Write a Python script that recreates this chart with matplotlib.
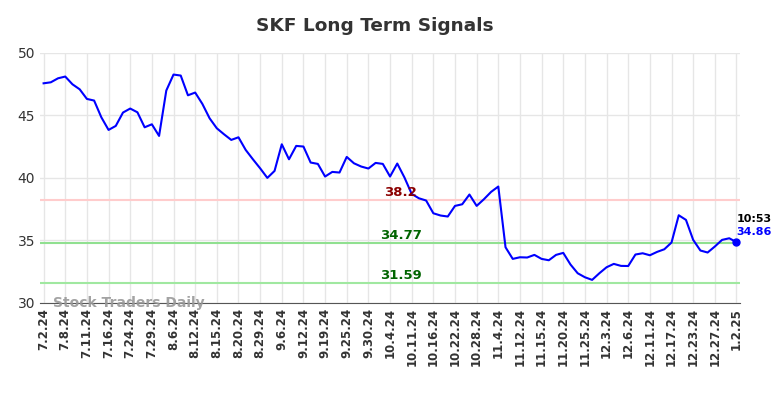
import matplotlib
matplotlib.use("Agg")
import matplotlib.pyplot as plt
import numpy as np

# closing prices, one per trading day
prices = [
    47.57, 47.65, 47.97, 48.11, 47.49, 47.09, 46.32, 46.19, 44.85, 43.84,
    44.16, 45.23, 45.55, 45.25, 44.05, 44.29, 43.36, 46.99, 48.27, 48.19,
    46.61, 46.83, 45.92, 44.77, 43.97, 43.49, 43.04, 43.25, 42.24, 41.49,
    40.77, 40.00, 40.56, 42.69, 41.49, 42.56, 42.51, 41.23, 41.12, 40.11,
    40.48, 40.43, 41.68, 41.17, 40.91, 40.75, 41.20, 41.12, 40.11, 41.15,
    40.03, 38.72, 38.37, 38.19, 37.17, 36.99, 36.91, 37.76, 37.89, 38.67,
    37.76, 38.29, 38.88, 39.31, 34.45, 33.52, 33.65, 33.63, 33.84, 33.52,
    33.41, 33.84, 34.00, 33.07, 32.37, 32.05, 31.84, 32.37, 32.85, 33.12,
    32.96, 32.95, 33.87, 33.97, 33.81, 34.08, 34.29, 34.83, 37.01, 36.64,
    35.04, 34.19, 34.03, 34.51, 35.04, 35.17, 34.86,
]

tick_labels = [
    "7.2.24", "7.8.24", "7.11.24", "7.16.24", "7.24.24", "7.29.24", "8.6.24",
    "8.12.24", "8.15.24", "8.20.24", "8.29.24", "9.6.24", "9.12.24", "9.19.24",
    "9.25.24", "9.30.24", "10.4.24", "10.11.24", "10.16.24", "10.22.24",
    "10.28.24", "11.4.24", "11.12.24", "11.15.24", "11.20.24", "11.25.24",
    "12.3.24", "12.6.24", "12.11.24", "12.17.24", "12.23.24", "12.27.24",
    "1.2.25",
]

levels = [38.2, 34.77, 31.59]
level_colors = ["#ffcccc", "#90e090", "#a0e8a0"]
label_colors = ["#8b0000", "#006400", "#006400"]

x = np.arange(len(prices))

fig = plt.figure(figsize=(7.84, 3.98), dpi=100)
ax = fig.add_axes([0.051, 0.239, 0.893, 0.628])

ax.grid(True, color="#e6e6e6", linewidth=1)
ax.set_axisbelow(True)

for lvl, lc, tc in zip(levels, level_colors, label_colors):
    ax.axhline(lvl, color=lc, linewidth=1.5, zorder=1)
    ax.text(49.5, lvl + 0.6, f"{lvl:g}", color=tc, fontsize=9.5,
            fontweight="bold", ha="center", va="center", zorder=3)

ax.plot(x, prices, color="blue", linewidth=1.5, zorder=2)
ax.plot(x[-1], prices[-1], "o", color="blue", markersize=5, zorder=3)

ax.text(x[-1], prices[-1] + 1.85, "10:53", fontsize=8, fontweight="bold",
        color="black", ha="left", va="center")
ax.text(x[-1], prices[-1] + 0.85, f"{prices[-1]:.2f}", fontsize=8,
        fontweight="bold", color="blue", ha="left", va="center")

ax.text(1.3, 30.0, "Stock Traders Daily", fontsize=10, fontweight="bold",
        color="#999999", ha="left", va="center", alpha=0.9)

ax.set_xlim(-0.5, 96.5)
ax.set_ylim(30, 50)
ax.set_yticks([30, 35, 40, 45, 50])
ax.set_xticks(x[::3])
ax.set_xticklabels(tick_labels, rotation=90, fontsize=8.5, fontweight="bold",
                   color="#333333")
ax.tick_params(axis="y", labelsize=10, colors="#333333", length=0)
ax.tick_params(axis="x", length=0)

for side in ["top", "right", "left"]:
    ax.spines[side].set_visible(False)
ax.spines["bottom"].set_color("#555555")

fig.text(375 / 784, 1 - 26 / 398, "SKF Long Term Signals", fontsize=13.3,
         fontweight="bold", color="#333333", ha="center", va="center")

fig.savefig("out.png", dpi=100)
